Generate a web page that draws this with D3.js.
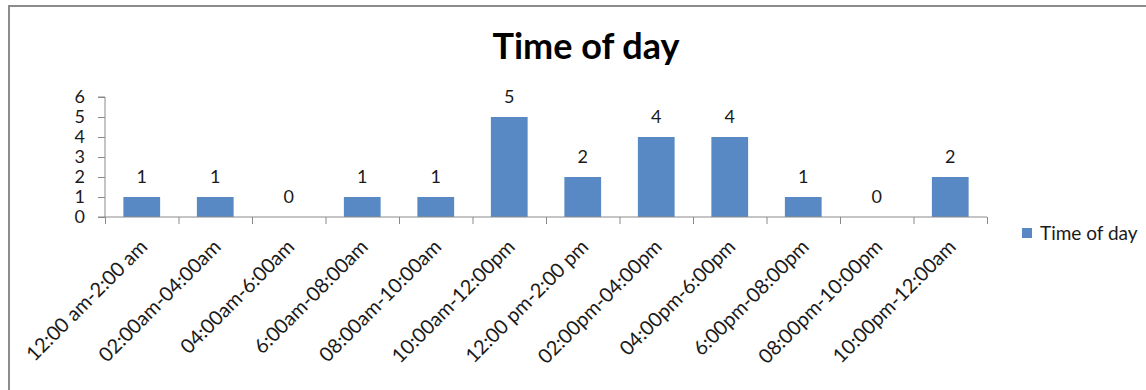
<!DOCTYPE html>
<html>
<head>
<meta charset="utf-8">
<script src="https://cdn.jsdelivr.net/npm/d3@7"></script>
<style>
  html, body { margin: 0; padding: 0; background: #fff; }
  svg { display: block; }
  text { font-family: Lato, "Open Sans", sans-serif; }
</style>
</head>
<body>
<svg id="chart" width="1146" height="390"></svg>
<script>
// Number of events in each two-hour slot of the day
const categories = [
  "12:00 am-2:00 am", "02:00am-04:00am", "04:00am-6:00am", "6:00am-08:00am",
  "08:00am-10:00am", "10:00am-12:00pm", "12:00 pm-2:00 pm", "02:00pm-04:00pm",
  "04:00pm-6:00pm", "6:00pm-08:00pm", "08:00pm-10:00pm", "10:00pm-12:00am"
];
const values = [1, 1, 0, 1, 1, 5, 2, 4, 4, 1, 0, 2];
const yTicks = [0, 1, 2, 3, 4, 5, 6];
const seriesName = "Time of day";
const chartTitle = "Time of day";

const svg = d3.select("#chart");
const W = 1146, H = 390;
const plot = { left: 105, right: 987, top: 97, bottom: 217 };
const barColor = "#5889c4";
const axisColor = "#8a8a8a";
const textColor = "#1a1a1a";

svg.append("rect").attr("width", W).attr("height", H).attr("fill", "#fff");

// chart frame
svg.append("rect")
  .attr("x", 9).attr("y", 6)
  .attr("width", 1300).attr("height", 600)
  .attr("fill", "none")
  .attr("stroke", "#8c8c8c")
  .attr("stroke-width", 2);

// title
svg.append("text")
  .attr("x", 586).attr("y", 59)
  .attr("text-anchor", "middle")
  .attr("font-size", 36)
  .attr("font-weight", "bold")
  .attr("fill", "#000")
  .text(chartTitle);

const x = d3.scaleBand()
  .domain(categories)
  .range([plot.left, plot.right])
  .paddingInner(0).paddingOuter(0);

const y = d3.scaleLinear()
  .domain([d3.min(yTicks), d3.max(yTicks)])
  .range([plot.bottom, plot.top]);

const bw = x.bandwidth();

// bars
svg.append("g").selectAll("rect")
  .data(values)
  .join("rect")
  .attr("x", (d, i) => x(categories[i]) + bw * 0.25)
  .attr("width", bw * 0.5)
  .attr("y", d => y(d))
  .attr("height", d => y(0) - y(d))
  .attr("fill", barColor);

// value labels
svg.append("g").selectAll("text")
  .data(values)
  .join("text")
  .attr("x", (d, i) => x(categories[i]) + bw / 2)
  .attr("y", d => y(d) - 14)
  .attr("text-anchor", "middle")
  .attr("font-size", 18)
  .attr("fill", textColor)
  .text(d => d);

// y axis
const yAxis = svg.append("g")
  .attr("transform", `translate(${plot.left},0)`)
  .call(d3.axisLeft(y).tickValues(yTicks).tickSize(7).tickPadding(13).tickFormat(d3.format("d")));
yAxis.select(".domain").attr("stroke", axisColor).attr("d", `M-7,${plot.top}H0V${plot.bottom}H-7`);
yAxis.selectAll(".tick line").attr("stroke", axisColor);
yAxis.selectAll(".tick text").attr("font-size", 18).attr("fill", textColor)
  .attr("font-family", "Lato, sans-serif");

// x axis: ticks on category boundaries
const xb = d3.scaleLinear().domain([0, categories.length]).range([plot.left, plot.right]);
const xAxis = svg.append("g")
  .attr("transform", `translate(0,${plot.bottom})`)
  .call(d3.axisBottom(xb).tickValues(d3.range(categories.length + 1)).tickSize(7).tickFormat(""));
xAxis.select(".domain").attr("stroke", axisColor).attr("d", `M${plot.left},0H${plot.right}`);
xAxis.selectAll(".tick line").attr("stroke", axisColor);

// rotated category labels
svg.append("g").selectAll("text")
  .data(categories)
  .join("text")
  .attr("transform", c => `translate(${x(c) + bw / 2 + 7},${plot.bottom + 31}) rotate(-45)`)
  .attr("text-anchor", "end")
  .attr("font-size", 20)
  .attr("fill", textColor)
  .text(c => c);

// legend
const lg = svg.append("g").attr("transform", "translate(1022,228)");
lg.append("rect").attr("width", 10).attr("height", 10).attr("fill", barColor);
lg.append("text").attr("x", 18).attr("y", 10).attr("dy", "0.1em")
  .attr("font-size", 19).attr("fill", textColor).text(seriesName);
</script>
</body>
</html>
